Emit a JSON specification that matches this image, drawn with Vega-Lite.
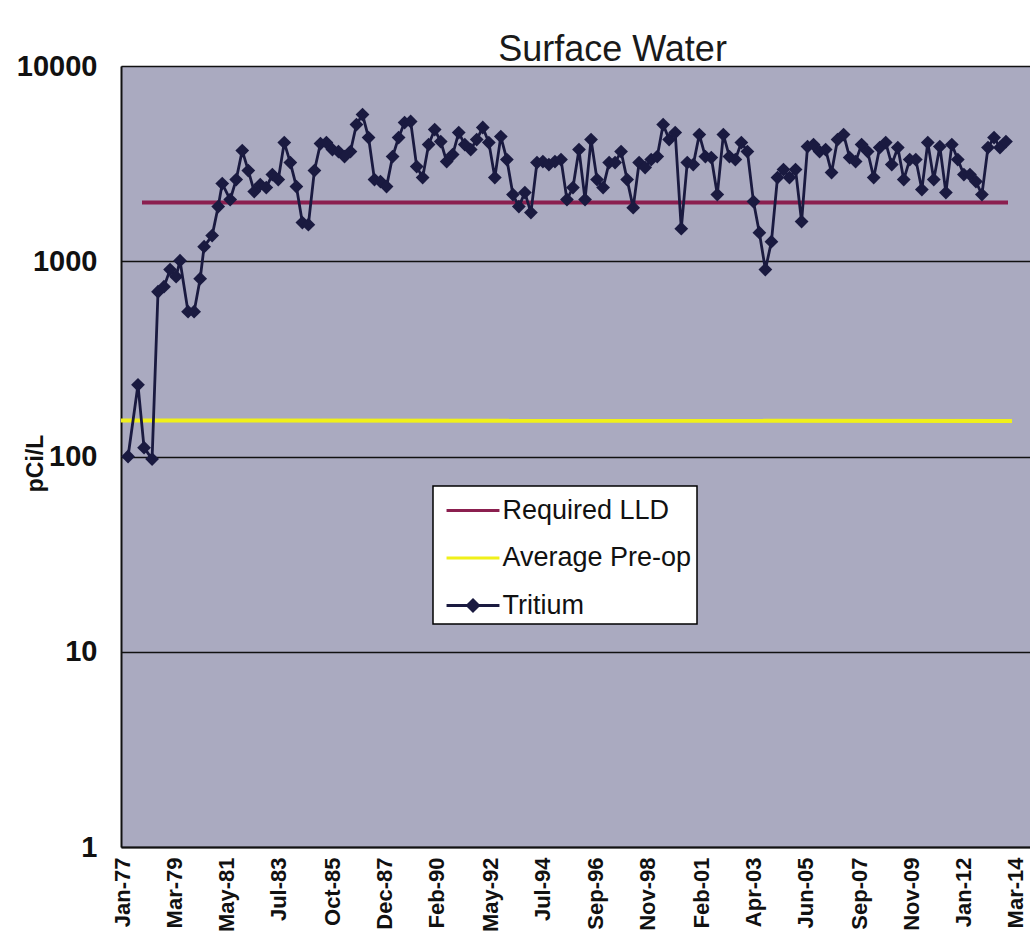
{
  "$schema": "https://vega.github.io/schema/vega-lite/v6.json",
  "width": 909,
  "height": 781,
  "autosize": "none",
  "padding": {"left": 121, "top": 66, "right": 0, "bottom": 90},
  "background": "white",
  "title": {"text": "Surface Water", "font": "Liberation Sans", "fontSize": 36, "fontWeight": "normal", "color": "#1a1a1a", "anchor": "middle", "dx": 37, "dy": 48, "offset": 3, "baseline": "alphabetic"},
  "config": {
    "view": {"fill": "#aaaac0", "stroke": null}
  },
  "datasets": {
    "tri": [
      {"series":"Tritium","date":"1977-01-01","value":100},
      {"series":"Tritium","date":"1977-06-01","value":233},
      {"series":"Tritium","date":"1977-09-01","value":111},
      {"series":"Tritium","date":"1978-01-01","value":97},
      {"series":"Tritium","date":"1978-04-01","value":698},
      {"series":"Tritium","date":"1978-07-01","value":741},
      {"series":"Tritium","date":"1978-10-01","value":906},
      {"series":"Tritium","date":"1979-01-01","value":834},
      {"series":"Tritium","date":"1979-03-01","value":1007},
      {"series":"Tritium","date":"1979-07-01","value":552},
      {"series":"Tritium","date":"1979-10-01","value":552},
      {"series":"Tritium","date":"1980-01-01","value":814},
      {"series":"Tritium","date":"1980-03-01","value":1188},
      {"series":"Tritium","date":"1980-07-01","value":1353},
      {"series":"Tritium","date":"1980-10-01","value":1905},
      {"series":"Tritium","date":"1980-12-01","value":2499},
      {"series":"Tritium","date":"1981-04-01","value":2069},
      {"series":"Tritium","date":"1981-07-01","value":2619},
      {"series":"Tritium","date":"1981-10-01","value":3689},
      {"series":"Tritium","date":"1982-01-01","value":2914},
      {"series":"Tritium","date":"1982-04-01","value":2273},
      {"series":"Tritium","date":"1982-07-01","value":2470},
      {"series":"Tritium","date":"1982-10-01","value":2384},
      {"series":"Tritium","date":"1983-01-01","value":2779},
      {"series":"Tritium","date":"1983-04-01","value":2619},
      {"series":"Tritium","date":"1983-07-01","value":4054},
      {"series":"Tritium","date":"1983-10-01","value":3202},
      {"series":"Tritium","date":"1984-01-01","value":2412},
      {"series":"Tritium","date":"1984-04-01","value":1577},
      {"series":"Tritium","date":"1984-07-01","value":1540},
      {"series":"Tritium","date":"1984-10-01","value":2914},
      {"series":"Tritium","date":"1985-01-01","value":4007},
      {"series":"Tritium","date":"1985-04-01","value":4054},
      {"series":"Tritium","date":"1985-07-01","value":3733},
      {"series":"Tritium","date":"1985-10-01","value":3646},
      {"series":"Tritium","date":"1986-01-01","value":3438},
      {"series":"Tritium","date":"1986-04-01","value":3646},
      {"series":"Tritium","date":"1986-07-01","value":5015},
      {"series":"Tritium","date":"1986-10-01","value":5640},
      {"series":"Tritium","date":"1987-01-01","value":4300},
      {"series":"Tritium","date":"1987-04-01","value":2619},
      {"series":"Tritium","date":"1987-07-01","value":2559},
      {"series":"Tritium","date":"1987-10-01","value":2412},
      {"series":"Tritium","date":"1988-01-01","value":3438},
      {"series":"Tritium","date":"1988-04-01","value":4300},
      {"series":"Tritium","date":"1988-07-01","value":5134},
      {"series":"Tritium","date":"1988-10-01","value":5196},
      {"series":"Tritium","date":"1989-01-01","value":3054},
      {"series":"Tritium","date":"1989-04-01","value":2683},
      {"series":"Tritium","date":"1989-07-01","value":3959},
      {"series":"Tritium","date":"1989-10-01","value":4726},
      {"series":"Tritium","date":"1990-01-01","value":4102},
      {"series":"Tritium","date":"1990-04-01","value":3239},
      {"series":"Tritium","date":"1990-07-01","value":3519},
      {"series":"Tritium","date":"1990-10-01","value":4561},
      {"series":"Tritium","date":"1991-01-01","value":3959},
      {"series":"Tritium","date":"1991-04-01","value":3733},
      {"series":"Tritium","date":"1991-07-01","value":4201},
      {"series":"Tritium","date":"1991-10-01","value":4841},
      {"series":"Tritium","date":"1992-01-01","value":4054},
      {"series":"Tritium","date":"1992-04-01","value":2683},
      {"series":"Tritium","date":"1992-07-01","value":4351},
      {"series":"Tritium","date":"1992-10-01","value":3317},
      {"series":"Tritium","date":"1993-01-01","value":2195},
      {"series":"Tritium","date":"1993-04-01","value":1905},
      {"series":"Tritium","date":"1993-07-01","value":2247},
      {"series":"Tritium","date":"1993-10-01","value":1775},
      {"series":"Tritium","date":"1994-01-01","value":3202},
      {"series":"Tritium","date":"1994-04-01","value":3239},
      {"series":"Tritium","date":"1994-07-01","value":3127},
      {"series":"Tritium","date":"1994-10-01","value":3239},
      {"series":"Tritium","date":"1995-01-01","value":3317},
      {"series":"Tritium","date":"1995-04-01","value":2069},
      {"series":"Tritium","date":"1995-07-01","value":2384},
      {"series":"Tritium","date":"1995-10-01","value":3733},
      {"series":"Tritium","date":"1996-01-01","value":2069},
      {"series":"Tritium","date":"1996-04-01","value":4201},
      {"series":"Tritium","date":"1996-07-01","value":2619},
      {"series":"Tritium","date":"1996-10-01","value":2384},
      {"series":"Tritium","date":"1997-01-01","value":3202},
      {"series":"Tritium","date":"1997-04-01","value":3202},
      {"series":"Tritium","date":"1997-07-01","value":3646},
      {"series":"Tritium","date":"1997-10-01","value":2619},
      {"series":"Tritium","date":"1998-01-01","value":1882},
      {"series":"Tritium","date":"1998-04-01","value":3202},
      {"series":"Tritium","date":"1998-07-01","value":3018},
      {"series":"Tritium","date":"1998-10-01","value":3317},
      {"series":"Tritium","date":"1999-01-01","value":3438},
      {"series":"Tritium","date":"1999-04-01","value":5015},
      {"series":"Tritium","date":"1999-07-01","value":4201},
      {"series":"Tritium","date":"1999-10-01","value":4561},
      {"series":"Tritium","date":"2000-01-01","value":1469},
      {"series":"Tritium","date":"2000-04-01","value":3202},
      {"series":"Tritium","date":"2000-07-01","value":3127},
      {"series":"Tritium","date":"2000-10-01","value":4455},
      {"series":"Tritium","date":"2001-01-01","value":3438},
      {"series":"Tritium","date":"2001-04-01","value":3396},
      {"series":"Tritium","date":"2001-07-01","value":2195},
      {"series":"Tritium","date":"2001-10-01","value":4455},
      {"series":"Tritium","date":"2002-01-01","value":3438},
      {"series":"Tritium","date":"2002-04-01","value":3317},
      {"series":"Tritium","date":"2002-07-01","value":4054},
      {"series":"Tritium","date":"2002-10-01","value":3646},
      {"series":"Tritium","date":"2003-01-01","value":2021},
      {"series":"Tritium","date":"2003-04-01","value":1401},
      {"series":"Tritium","date":"2003-07-01","value":906},
      {"series":"Tritium","date":"2003-10-01","value":1260},
      {"series":"Tritium","date":"2004-01-01","value":2683},
      {"series":"Tritium","date":"2004-04-01","value":2948},
      {"series":"Tritium","date":"2004-07-01","value":2683},
      {"series":"Tritium","date":"2004-10-01","value":2948},
      {"series":"Tritium","date":"2005-01-01","value":1596},
      {"series":"Tritium","date":"2005-04-01","value":3868},
      {"series":"Tritium","date":"2005-07-01","value":3959},
      {"series":"Tritium","date":"2005-10-01","value":3646},
      {"series":"Tritium","date":"2006-01-01","value":3733},
      {"series":"Tritium","date":"2006-04-01","value":2846},
      {"series":"Tritium","date":"2006-07-01","value":4201},
      {"series":"Tritium","date":"2006-10-01","value":4455},
      {"series":"Tritium","date":"2007-01-01","value":3396},
      {"series":"Tritium","date":"2007-04-01","value":3239},
      {"series":"Tritium","date":"2007-07-01","value":3959},
      {"series":"Tritium","date":"2007-10-01","value":3646},
      {"series":"Tritium","date":"2008-01-01","value":2683},
      {"series":"Tritium","date":"2008-04-01","value":3822},
      {"series":"Tritium","date":"2008-07-01","value":4054},
      {"series":"Tritium","date":"2008-10-01","value":3127},
      {"series":"Tritium","date":"2009-01-01","value":3822},
      {"series":"Tritium","date":"2009-04-01","value":2619},
      {"series":"Tritium","date":"2009-07-01","value":3317},
      {"series":"Tritium","date":"2009-10-01","value":3317},
      {"series":"Tritium","date":"2010-01-01","value":2328},
      {"series":"Tritium","date":"2010-04-01","value":4054},
      {"series":"Tritium","date":"2010-07-01","value":2619},
      {"series":"Tritium","date":"2010-10-01","value":3868},
      {"series":"Tritium","date":"2011-01-01","value":2247},
      {"series":"Tritium","date":"2011-04-01","value":3959},
      {"series":"Tritium","date":"2011-07-01","value":3317},
      {"series":"Tritium","date":"2011-10-01","value":2779},
      {"series":"Tritium","date":"2012-01-01","value":2779},
      {"series":"Tritium","date":"2012-04-01","value":2559},
      {"series":"Tritium","date":"2012-07-01","value":2195},
      {"series":"Tritium","date":"2012-10-01","value":3822},
      {"series":"Tritium","date":"2013-01-01","value":4300},
      {"series":"Tritium","date":"2013-04-01","value":3822},
      {"series":"Tritium","date":"2013-07-01","value":4102}
    ],
    "refs": [
      {"series":"Required LLD","date":"1977-08-01","value":2000},
      {"series":"Required LLD","date":"2013-08-01","value":2000},
      {"series":"Average Pre-op","date":"1976-09-16","value":153},
      {"series":"Average Pre-op","date":"2013-10-01","value":152}
    ]
  },
  "encoding": {
    "x": {
      "field": "date", "type": "temporal",
      "scale": {"type": "utc", "domain": [{"year": 1976, "month": 9, "date": 16, "utc": true}, {"year": 2014, "month": 7, "date": 1, "utc": true}]},
      "axis": {
        "title": null,
        "values": [
          {"year":1977,"month":1,"date":1,"utc":true},
          {"year":1979,"month":3,"date":1,"utc":true},
          {"year":1981,"month":5,"date":1,"utc":true},
          {"year":1983,"month":7,"date":1,"utc":true},
          {"year":1985,"month":10,"date":1,"utc":true},
          {"year":1987,"month":12,"date":1,"utc":true},
          {"year":1990,"month":2,"date":1,"utc":true},
          {"year":1992,"month":5,"date":1,"utc":true},
          {"year":1994,"month":7,"date":1,"utc":true},
          {"year":1996,"month":9,"date":1,"utc":true},
          {"year":1998,"month":11,"date":1,"utc":true},
          {"year":2001,"month":2,"date":1,"utc":true},
          {"year":2003,"month":4,"date":1,"utc":true},
          {"year":2005,"month":6,"date":1,"utc":true},
          {"year":2007,"month":9,"date":1,"utc":true},
          {"year":2009,"month":11,"date":1,"utc":true},
          {"year":2012,"month":1,"date":1,"utc":true},
          {"year":2014,"month":3,"date":1,"utc":true}
        ],
        "labelExpr": "utcFormat(datum.value, '%b-%y')",
        "labelAngle": 270, "labelAlign": "right", "labelBaseline": "middle",
        "labelFont": "Liberation Sans", "labelFontSize": 22, "labelFontWeight": "bold", "labelColor": "#111",
        "labelPadding": 10, "labelOffset": -6, "labelOverlap": false, "labelFlush": false, "labelLimit": 200,
        "ticks": false, "grid": false,
        "domainColor": "#111", "domainWidth": 2
      }
    },
    "y": {
      "field": "value", "type": "quantitative",
      "scale": {"type": "log", "domain": [1, 10000], "nice": false},
      "axis": {
        "title": "pCi/L", "titleFont": "Liberation Sans", "titleFontSize": 23, "titleFontWeight": "bold", "titleColor": "#111",
        "titleAngle": 270, "titleX": -86, "titleY": 397, "titleAlign": "center", "titleBaseline": "middle",
        "values": [1, 10, 100, 1000, 10000], "format": "d",
        "labelFont": "Liberation Sans", "labelFontSize": 29, "labelFontWeight": "bold", "labelColor": "#111",
        "labelPadding": 24, "ticks": false,
        "grid": true, "gridColor": "#111", "gridWidth": 1.3, "gridOpacity": 1,
        "domainColor": "#111", "domainWidth": 2
      }
    },
    "color": {
      "field": "series", "type": "nominal",
      "scale": {"domain": ["Required LLD", "Average Pre-op", "Tritium"], "range": ["#8b1f4f", "#f0f01a", "#1a1a40"]},
      "legend": {
        "title": null, "orient": "none", "legendX": 312, "legendY": 420,
        "padding": 5, "fillColor": "white", "strokeColor": "black",
        "labelFont": "Liberation Sans", "labelFontSize": 27, "labelColor": "#111", "labelLimit": 400,
        "rowPadding": 14.5, "symbolSize": 1296, "symbolOffset": 15.5, "labelOffset": 10,
        "symbolType": "M-1.47,0H1.47",
        "encode": {
          "legend": {"update": {"strokeWidth": {"value": 1.5}}},
          "symbols": {"update": {
            "shape": {"signal": "datum.value === 'Tritium' ? 'M-1.47,0H1.47M0,-0.3L0.3,0L0,0.3L-0.3,0Z' : 'M-1.47,0H1.47'"},
            "stroke": {"scale": "color", "field": "value"},
            "fill": {"scale": "color", "field": "value"},
            "strokeWidth": {"value": 3},
            "opacity": {"value": 1}
          }}
        }
      }
    }
  },
  "layer": [
    {
      "data": {"name": "refs"},
      "mark": {"type": "line", "strokeWidth": 4}
    },
    {
      "data": {"name": "tri"},
      "mark": {"type": "line", "strokeWidth": 2.8}
    },
    {
      "data": {"name": "tri"},
      "mark": {"type": "point", "shape": "diamond", "filled": true, "size": 190, "opacity": 1}
    }
  ]
}
